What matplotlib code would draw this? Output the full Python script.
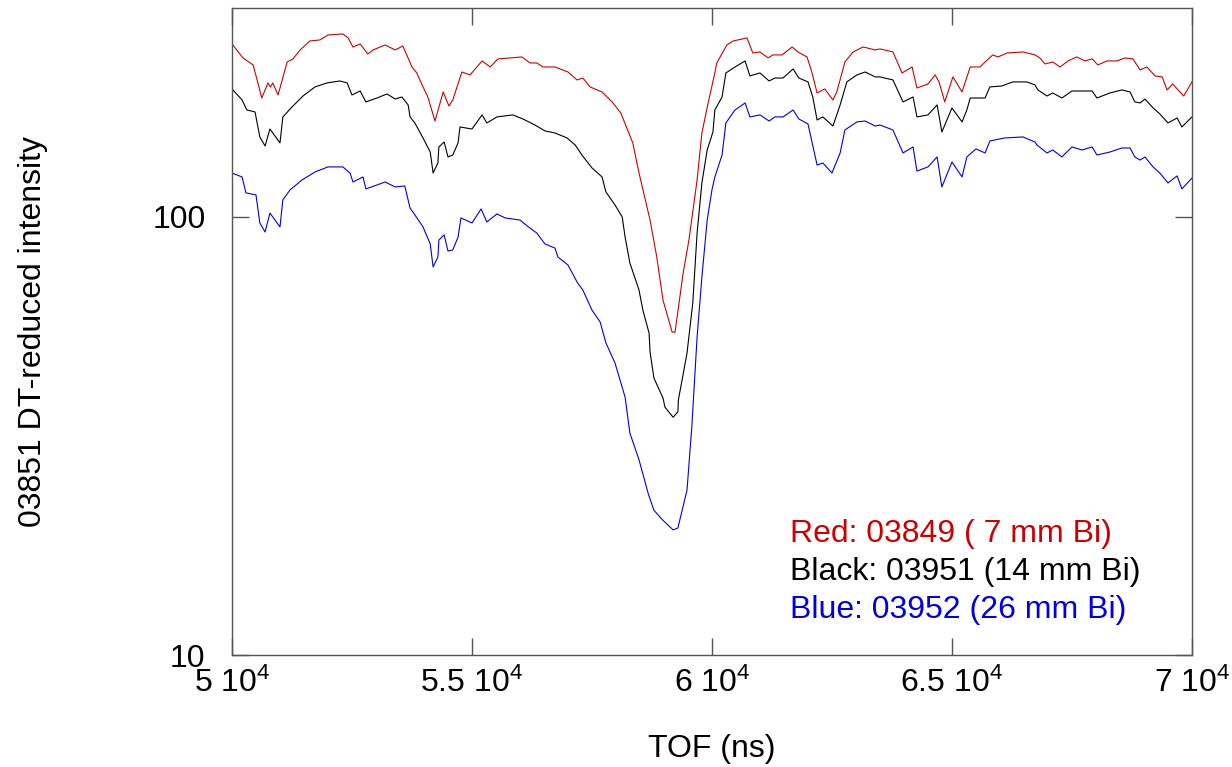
import matplotlib
matplotlib.use("Agg")
import matplotlib.pyplot as plt

plt.rcParams["font.family"] = ["Liberation Sans", "DejaVu Sans"]
plt.rcParams["mathtext.fontset"] = "custom"
plt.rcParams["mathtext.rm"] = "Liberation Sans"
plt.rcParams["mathtext.it"] = "Liberation Sans:italic"
plt.rcParams["mathtext.default"] = "regular"

# TOF (ns) / intensity, one pair of lists per run
red_tof = [50000, 50230, 50440, 50540, 50620, 50750, 50800, 50850, 50960, 51150, 51270, 51420,
           51620, 51830, 52000, 52310, 52420, 52520, 52670, 52830, 52940, 53190, 53400, 53560,
           53750, 53850, 53980, 54080, 54230, 54400, 54520, 54600, 54790, 54960, 55210, 55380,
           55540, 55790, 56040, 56210, 56350, 56480, 56730, 57000, 57190, 57310, 57460, 57710,
           57920, 58100, 58350, 58480, 58710, 58850, 58980, 59170, 59230, 59400, 59520, 59690,
           59790, 59920, 60060, 60100, 60310, 60440, 60730, 60850, 61000, 61170, 61270, 61460,
           61670, 61790, 61980, 62080, 62190, 62350, 62520, 62600, 62770, 62940, 63150, 63400,
           63500, 63770, 63960, 64170, 64270, 64500, 64650, 64730, 64850, 65020, 65210, 65380,
           65580, 65850, 65960, 66150, 66480, 66730, 66830, 66940, 67100, 67250, 67420, 67600,
           67770, 67920, 68040, 68230, 68440, 68600, 68770, 68920, 69060, 69230, 69380, 69480,
           69600, 69710, 69830, 70000]
red_int = [248.3, 230.7, 222.4, 202.3, 186.9, 202.3, 198.0, 202.3, 189.9, 225.9, 229.5, 240.6,
           252.2, 253.6, 260.3, 261.7, 256.3, 244.4, 248.3, 235.6, 240.6, 247.0, 240.6, 245.7,
           220.0, 213.2, 198.1, 187.9, 165.6, 192.9, 179.2, 185.0, 214.3, 211.0, 227.1, 220.0,
           229.5, 230.7, 231.9, 224.7, 224.7, 220.0, 220.0, 214.3, 205.5, 207.6, 198.1, 192.9,
           183.1, 172.8, 147.6, 126.0, 98.4, 81.0, 64.6, 54.6, 54.6, 74.5, 88.6, 121.5,
           155.5, 182.1, 213.2, 224.7, 247.0, 252.2, 256.3, 236.8, 238.1, 230.7, 234.4, 234.4,
           244.4, 238.1, 231.9, 214.3, 191.9, 196.0, 185.0, 192.9, 225.9, 238.1, 244.4, 240.6,
           241.9, 238.1, 213.2, 220.0, 197.0, 201.2, 211.0, 203.4, 183.1, 208.8, 192.9, 220.0,
           220.0, 234.4, 231.9, 236.8, 238.1, 234.4, 230.7, 223.5, 225.9, 220.0, 227.1, 231.9,
           227.1, 229.5, 222.4, 227.1, 227.1, 230.7, 229.5, 216.6, 220.0, 209.9, 208.8, 195.0,
           201.2, 195.0, 188.9, 203.4]

black_tof = [50000, 50210, 50310, 50480, 50580, 50690, 50790, 51000, 51060, 51250, 51480, 51730,
             51980, 52250, 52400, 52500, 52670, 52790, 53020, 53230, 53400, 53540, 53670, 53710,
             53810, 53980, 54130, 54190, 54290, 54310, 54420, 54500, 54600, 54710, 54750, 55000,
             55210, 55310, 55520, 55850, 56060, 56310, 56520, 56730, 56980, 57150, 57290, 57500,
             57710, 57790, 57980, 58130, 58190, 58290, 58480, 58560, 58690, 58710, 58790, 58980,
             59020, 59190, 59290, 59300, 59480, 59600, 59690, 59790, 59900, 60020, 60060, 60210,
             60290, 60480, 60690, 60790, 61000, 61190, 61310, 61480, 61690, 61810, 62000, 62100,
             62190, 62310, 62520, 62670, 62810, 63020, 63190, 63400, 63500, 63770, 63980, 64190,
             64270, 64500, 64690, 64790, 65000, 65210, 65310, 65380, 65690, 65790, 66040, 66270,
             66560, 66730, 66790, 66980, 67100, 67290, 67500, 67730, 67920, 68020, 68290, 68540,
             68710, 68810, 68920, 69020, 69190, 69330, 69500, 69690, 69790, 70000]
black_int = [196.0, 185.0, 175.5, 173.7, 152.3, 145.2, 158.8, 147.6, 169.2, 178.3, 188.9, 198.1,
             202.3, 204.4, 202.3, 189.9, 193.9, 183.1, 186.9, 190.9, 185.9, 187.9, 180.2, 169.2,
             163.9, 151.5, 140.7, 126.0, 132.8, 144.5, 148.3, 137.1, 138.5, 147.6, 160.5, 158.8,
             171.0, 163.9, 169.2, 171.0, 167.4, 162.2, 157.2, 155.5, 151.5, 146.0, 138.5, 129.4,
             123.4, 114.1, 106.5, 100.0, 90.0, 78.5, 68.1, 61.3, 54.3, 49.2, 42.9, 38.6,
             36.8, 34.9, 35.9, 38.2, 48.9, 63.6, 91.9, 119.6, 142.2, 156.3, 175.5, 187.9,
             213.2, 220.0, 227.1, 209.9, 213.2, 204.4, 207.6, 207.6, 217.7, 207.6, 203.4, 187.9,
             166.5, 169.2, 161.3, 180.2, 203.4, 211.0, 214.3, 208.8, 208.8, 205.5, 183.1, 187.9,
             169.2, 171.0, 180.2, 156.3, 177.4, 164.8, 175.5, 186.9, 186.9, 198.1, 199.1, 203.4,
             203.4, 200.2, 195.0, 188.9, 191.9, 186.9, 193.9, 193.9, 193.9, 186.9, 191.9, 195.0,
             192.9, 183.1, 182.1, 185.9, 177.4, 171.9, 163.9, 168.3, 160.5, 169.2]

blue_tof = [50000, 50210, 50290, 50500, 50580, 50690, 50790, 51000, 51060, 51210, 51460, 51730,
            52000, 52310, 52460, 52520, 52730, 52790, 53020, 53190, 53400, 53600, 53710, 53810,
            53980, 54130, 54190, 54290, 54310, 54420, 54500, 54600, 54710, 54770, 55000, 55190,
            55310, 55520, 55690, 56000, 56150, 56350, 56520, 56730, 56790, 57000, 57190, 57310,
            57500, 57670, 57790, 57980, 58190, 58290, 58480, 58670, 58790, 58980, 59190, 59290,
            59480, 59580, 59690, 59790, 59900, 60000, 60060, 60210, 60290, 60480, 60690, 60790,
            61000, 61190, 61310, 61480, 61690, 61810, 62000, 62190, 62310, 62500, 62670, 62770,
            63020, 63190, 63400, 63500, 63770, 63980, 64190, 64270, 64500, 64690, 64790, 65000,
            65210, 65310, 65500, 65690, 65790, 66100, 66480, 66730, 66770, 66980, 67100, 67290,
            67500, 67710, 67920, 68020, 68290, 68540, 68710, 68810, 68920, 69020, 69190, 69330,
            69500, 69690, 69790, 70000]
blue_int = [126.0, 123.4, 113.5, 112.3, 96.9, 92.4, 102.1, 94.9, 109.4, 115.3, 121.5, 126.7,
            130.1, 130.1, 126.0, 120.2, 123.4, 115.9, 118.3, 120.2, 117.1, 117.7, 104.8, 101.1,
            94.9, 86.8, 76.9, 81.0, 88.6, 91.0, 83.6, 84.1, 90.0, 99.5, 96.9, 104.3,
            97.4, 101.6, 99.5, 98.4, 95.4, 91.9, 86.8, 84.9, 81.0, 77.7, 71.0, 68.1,
            61.3, 57.6, 51.6, 46.4, 38.8, 32.1, 27.9, 23.4, 21.4, 20.3, 19.3, 19.5,
            23.8, 33.2, 53.2, 72.9, 98.4, 115.3, 123.4, 138.5, 163.9, 175.5, 182.1, 169.2,
            171.0, 165.6, 169.2, 169.2, 175.5, 167.4, 163.1, 131.4, 132.8, 126.0, 140.0, 158.0,
            164.8, 165.6, 161.3, 162.2, 158.0, 140.0, 144.5, 127.3, 130.1, 137.1, 117.1, 133.5,
            123.4, 137.1, 143.0, 140.0, 149.1, 151.5, 152.3, 148.3, 146.0, 140.0, 142.2, 137.1,
            144.5, 142.2, 144.5, 138.5, 140.7, 143.7, 143.7, 137.1, 134.9, 137.1, 130.1, 126.0,
            119.6, 124.1, 115.9, 122.7]

xticks = [50000, 55000, 60000, 65000, 70000]
xtick_labels = ["5 10$^{4}$", "5.5 10$^{4}$", "6 10$^{4}$", "6.5 10$^{4}$", "7 10$^{4}$"]
yticks = [10, 100]
ytick_labels = ["10", "100"]
legend_lines = ["Red: 03849 ( 7 mm Bi)", "Black: 03951 (14 mm Bi)", "Blue: 03952 (26 mm Bi)"]

RED, BLACK, BLUE = "#cc0000", "#000000", "#0000e0"
FS = 23

fig = plt.figure(figsize=(12.32, 7.67), dpi=100)
ax = fig.add_axes([0.1883, 0.146, 0.7792, 0.8436])

ax.plot(red_tof, red_int, color=RED, lw=0.8)
ax.plot(black_tof, black_int, color=BLACK, lw=0.8)
ax.plot(blue_tof, blue_int, color=BLUE, lw=0.8)

ax.set_yscale("log")
ax.set_xlim(50000, 70000)
ax.set_ylim(10, 300)
ax.set_xticks(xticks)
ax.set_xticklabels(xtick_labels, fontsize=FS)
ax.set_yticks(yticks)
ax.set_yticklabels(ytick_labels, fontsize=FS)
ax.minorticks_off()
ax.tick_params(axis="both", direction="in", length=12, width=1.0, color="#555555",
               top=True, right=True)
ax.tick_params(axis="x", pad=9)
ax.tick_params(axis="y", pad=19)
for sp in ax.spines.values():
    sp.set_color("#555555")
    sp.set_linewidth(1.0)

ax.set_xlabel("TOF (ns)", fontsize=FS, labelpad=25)
ax.set_ylabel("03851 DT-reduced intensity", fontsize=FS, va="center")
ax.yaxis.set_label_coords(-0.207, 0.5)

for i, (txt, col) in enumerate(zip(legend_lines, [RED, BLACK, BLUE])):
    ax.text(0.581, 0.187 - i * 0.0585, txt, color=col, fontsize=FS,
            transform=ax.transAxes, ha="left", va="center")

fig.savefig("out.png", dpi=100)
